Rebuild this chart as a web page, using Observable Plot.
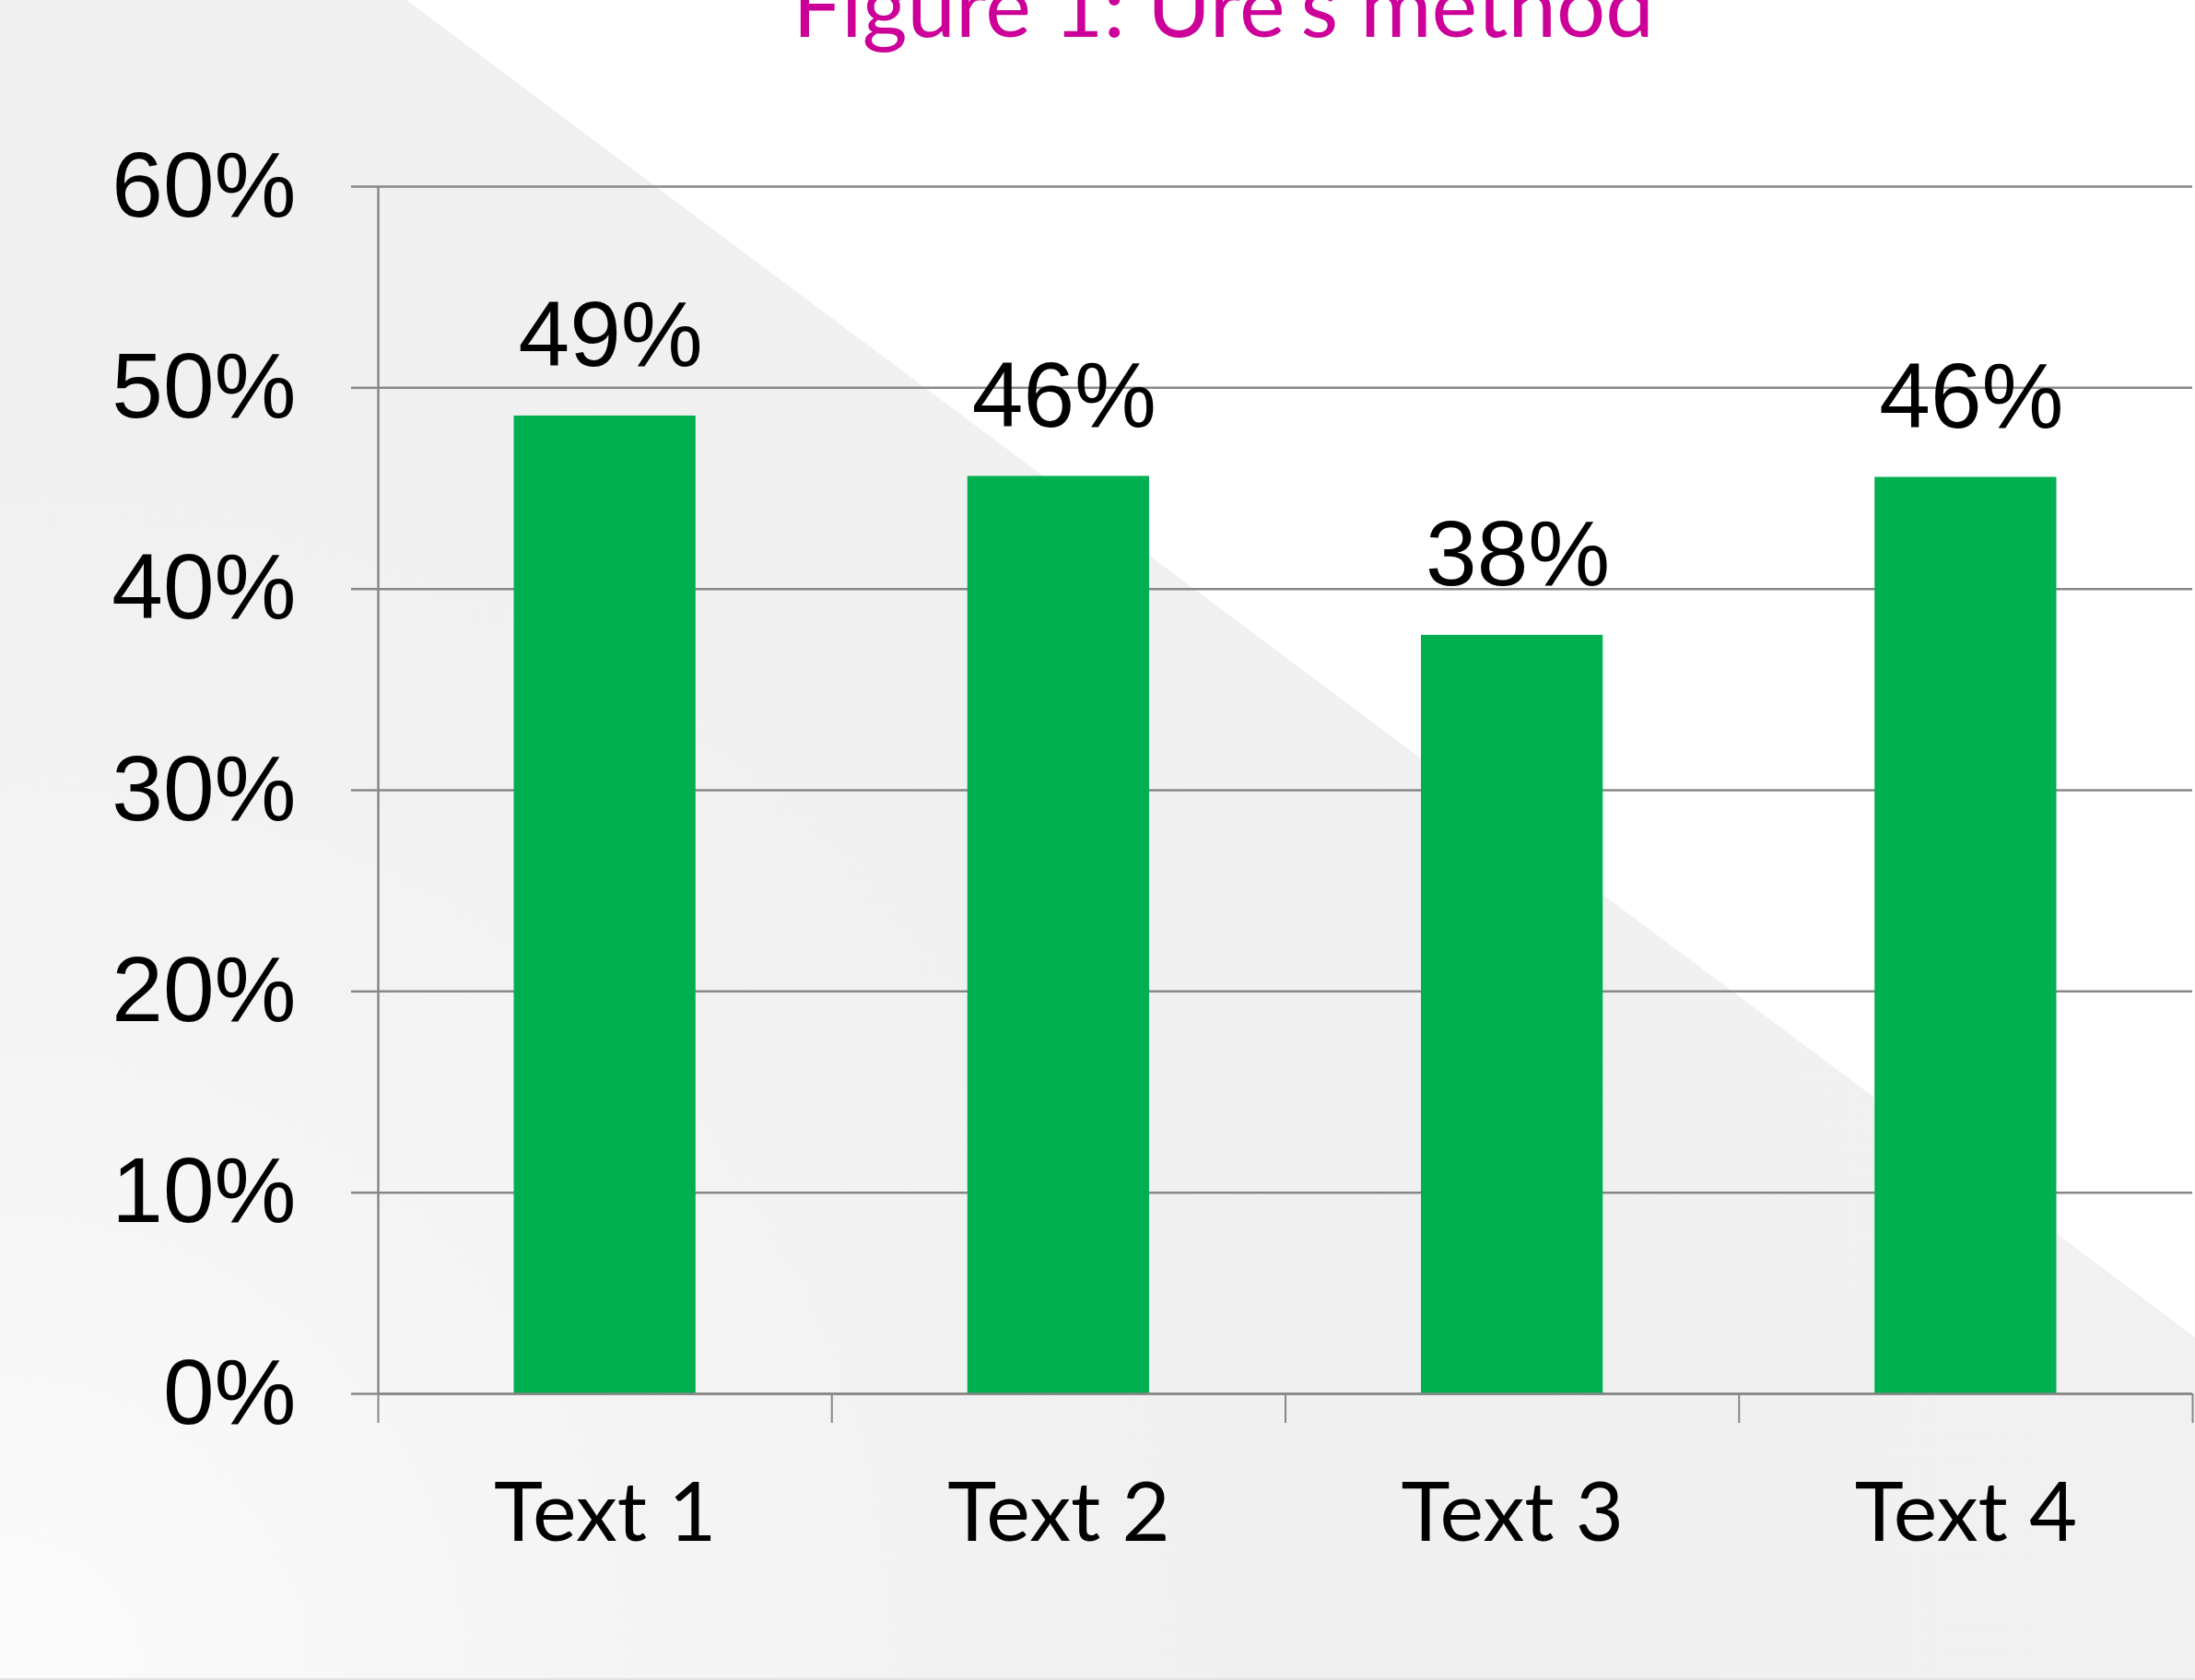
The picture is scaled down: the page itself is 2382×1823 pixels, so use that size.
<!DOCTYPE html>
<html>
<head>
<meta charset="utf-8">
<script src="https://cdn.jsdelivr.net/npm/d3@7"></script>
<script src="https://cdn.jsdelivr.net/npm/@observablehq/plot@0.6"></script>
<style>
  html, body { margin: 0; padding: 0; background: #ffffff; }
  #wrap { position: relative; width: 2382px; height: 1823px; overflow: hidden; background: #ffffff; }
  #bg { position: absolute; left: 0; top: 0; width: 2382px; height: 1823px;
        clip-path: polygon(0px 0px, 441px 0px, 2382px 1451px, 2382px 1823px, 0px 1823px);
        background: radial-gradient(circle at 0% 100%, #fbfbfb 0px, #f4f4f4 700px, #f0f0f0 1400px, #f1f1f1 2400px); }
  #bottomline { position: absolute; left: 0; top: 1821px; width: 2382px; height: 2px; background: #e2e2e2; }
  #title { position: absolute; left: 0; width: 2655px; top: -43px; text-align: center;
           font-family: Lato, "Open Sans", sans-serif; font-size: 94px; line-height: 94px;
           color: #CC0099; white-space: nowrap; }
  #chart { position: absolute; left: 0; top: 0; }
  #chart svg { background: transparent !important; }
</style>
</head>
<body>
<div id="wrap">
  <div id="bg"></div>
  <div id="bottomline"></div>
  <div id="title">Figure 1: Ure's method</div>
  <div id="chart"></div>
</div>
<script>
// ---- data ----
const title = "Figure 1: Ure's method";
const categories = ["Text 1", "Text 2", "Text 3", "Text 4"];
const values = [0.486, 0.456, 0.377, 0.4555];
const yTicks = [0, 0.1, 0.2, 0.3, 0.4, 0.5, 0.6];

const data = categories.map((c, i) => ({i, category: c, value: values[i]}));
const pct = d3.format(".0%");
const gridColor = "#878787";
const numFont = "'Liberation Sans', Arial, sans-serif";
const catFont = "Lato, 'Open Sans', sans-serif";

const chart = Plot.plot({
  width: 2382,
  height: 1823,
  marginTop: 202,
  marginBottom: 311,
  marginLeft: 410,
  marginRight: 3,
  style: {background: "transparent", fontFamily: numFont, color: "#000"},
  x: {type: "linear", domain: [0, categories.length], axis: null},
  y: {domain: [0, 0.6], axis: null},
  marks: [
    Plot.gridY(yTicks, {stroke: gridColor, strokeOpacity: 1, strokeWidth: 2.5}),
    Plot.rectY(data, {x1: "i", x2: d => d.i + 1, y: "value", fill: "#00B050", insetLeft: 147.5, insetRight: 147.5}),
    Plot.ruleX([0], {stroke: gridColor, strokeWidth: 2.5}),
    Plot.ruleY([0], {stroke: gridColor, strokeWidth: 2.5}),
    Plot.axisY({ticks: yTicks, tickFormat: pct, tickSize: 29, tickPadding: 60, stroke: gridColor, strokeWidth: 2.5,
                fontSize: 100, fontFamily: numFont, fill: "#000", label: null}),
    Plot.axisX({ticks: d3.range(categories.length + 1), tickFormat: () => "", tickSize: 32, stroke: gridColor, strokeWidth: 2, label: null}),
    Plot.axisX({ticks: categories.map((c, i) => i + 0.5), tickFormat: d => categories[Math.floor(d)], tickSize: 0, tickPadding: 96,
                fontSize: 90, fontFamily: catFont, fill: "#000", label: null}),
    Plot.text(data, {x: d => d.i + 0.5, y: "value", text: d => pct(d.value), lineAnchor: "bottom", dy: -54, dx: 6,
                     fontSize: 100, fontFamily: numFont, fill: "#000"})
  ]
});
document.getElementById("chart").appendChild(chart);
document.getElementById("title").textContent = title;
</script>
</body>
</html>
